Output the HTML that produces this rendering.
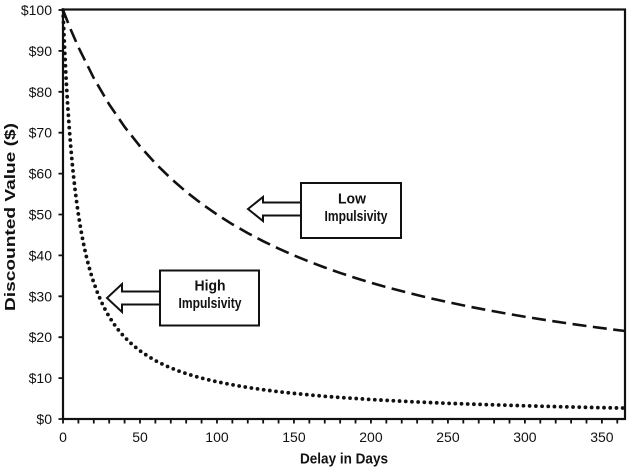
<!DOCTYPE html>
<html>
<head>
<meta charset="utf-8">
<style>
  html, body { margin: 0; padding: 0; background: #ffffff; }
  body { width: 630px; height: 470px; overflow: hidden; }
  svg { display: block; }
  text { font-family: "Liberation Sans", sans-serif; fill: #111; }
</style>
</head>
<body>
<svg width="630" height="470" viewBox="0 0 630 470" xmlns="http://www.w3.org/2000/svg">
  <rect x="0" y="0" width="630" height="470" fill="#ffffff"/>

  <!-- Frame -->
  <rect x="63" y="9.5" width="562" height="409.5" fill="none" stroke="#111" stroke-width="2.2"/>

  <!-- Y ticks -->
  <path d="M58.5,419H63 M58.5,378.1H63 M58.5,337.2H63 M58.5,296.3H63 M58.5,255.4H63 M58.5,214.5H63 M58.5,173.6H63 M58.5,132.7H63 M58.5,91.8H63 M58.5,50.9H63 M58.5,10H63" stroke="#111" stroke-width="1.8" fill="none"/>

  <!-- X ticks -->
  <path d="M63,419v4.5 M78.40,419v4.5 M93.79,419v4.5 M109.19,419v4.5 M124.59,419v4.5 M139.99,419v4.5 M155.38,419v4.5 M170.78,419v4.5 M186.18,419v4.5 M201.57,419v4.5 M216.97,419v4.5 M232.37,419v4.5 M247.76,419v4.5 M263.16,419v4.5 M278.56,419v4.5 M293.96,419v4.5 M309.35,419v4.5 M324.75,419v4.5 M340.15,419v4.5 M355.54,419v4.5 M370.94,419v4.5 M386.34,419v4.5 M401.73,419v4.5 M417.13,419v4.5 M432.53,419v4.5 M447.93,419v4.5 M463.32,419v4.5 M478.72,419v4.5 M494.12,419v4.5 M509.51,419v4.5 M524.91,419v4.5 M540.31,419v4.5 M555.70,419v4.5 M571.10,419v4.5 M586.50,419v4.5 M601.90,419v4.5 M617.29,419v4.5" stroke="#111" stroke-width="1.8" fill="none"/>

  <!-- Y tick labels -->
  <g font-size="14" text-anchor="end">
    <text x="52" y="424">$0</text>
    <text x="52" y="383.1">$10</text>
    <text x="52" y="342.2">$20</text>
    <text x="52" y="301.3">$30</text>
    <text x="52" y="260.4">$40</text>
    <text x="52" y="219.5">$50</text>
    <text x="52" y="178.6">$60</text>
    <text x="52" y="137.7">$70</text>
    <text x="52" y="96.8">$80</text>
    <text x="52" y="55.9">$90</text>
    <text x="52" y="15">$100</text>
  </g>

  <!-- X tick labels -->
  <g font-size="14" text-anchor="middle">
    <text x="63" y="442">0</text>
    <text x="139.99" y="442">50</text>
    <text x="216.97" y="442">100</text>
    <text x="293.96" y="442">150</text>
    <text x="370.94" y="442">200</text>
    <text x="447.93" y="442">250</text>
    <text x="524.91" y="442">300</text>
    <text x="601.90" y="442">350</text>
  </g>

  <!-- Axis titles -->
  <text x="344" y="463.5" font-size="15" font-weight="bold" text-anchor="middle" textLength="88" lengthAdjust="spacingAndGlyphs">Delay in Days</text>
  <text transform="translate(15,217) rotate(-90)" x="0" y="0" font-size="15" font-weight="bold" text-anchor="middle" textLength="188" lengthAdjust="spacingAndGlyphs">Discounted Value ($)</text>

  <!-- Low impulsivity (dashed) -->
  <polyline fill="none" stroke="#111" stroke-width="2.6" stroke-dasharray="14 6.5"
    points="63,10 70.70,29.47 78.40,47.18 93.79,78.17 109.19,104.40 124.59,126.85 139.99,146.33 155.38,163.38 170.78,178.42 186.18,191.76 201.57,203.74 216.97,214.5 232.37,224.3 247.76,233.10 263.16,241.2 278.56,248.58 293.96,255.4 309.35,261.70 324.75,267.5 340.15,272.94 355.54,278.0 370.94,282.67 386.34,287.1 409.43,293.15 428.68,297.9 447.93,302.14 467.17,306.2 486.42,309.93 505.66,313.4 524.91,316.75 548.0,320.4 571.10,323.87 598.0,327.6 625,331.02"/>

  <!-- High impulsivity (dotted) -->
  <polyline fill="none" stroke="#111" stroke-width="3.8" stroke-linecap="round" stroke-dasharray="0 6.2"
    points="63,10 63.38,19.98 63.77,29.47 64.54,47.18 65.31,63.0 66.08,78.17 67.62,104.40 69.16,126.85 70.70,146.33 72.24,163.38 73.78,178.42 75.32,191.76 76.86,203.74 78.40,214.5 79.94,224.2 81.48,233.10 83.02,241.2 84.56,248.58 86.10,255.4 87.64,261.70 89.18,267.5 90.71,272.94 92.25,278.0 93.79,282.67 97.64,293.15 101.49,302.14 105.34,309.93 109.19,316.75 113.81,323.87 119.20,331.02 124.59,337.2 132.29,344.6 139.99,350.8 147.69,356.0 155.38,360.6 163.08,364.5 170.78,367.9 178.48,370.9 186.18,373.6 193.87,376.0 201.57,378.1 209.27,380.0 216.97,381.8 232.37,384.8 247.76,387.5 263.16,389.7 278.56,391.7 293.96,393.4 309.35,394.9 324.75,396.3 340.15,397.5 355.54,398.5 370.94,399.5 390.19,400.6 409.43,401.6 428.68,402.5 447.93,403.3 467.17,404.0 486.42,404.6 505.66,405.2 524.91,405.8 548.0,406.4 571.10,407.0 598.0,407.6 625,408.1"/>

  <!-- Low impulsivity callout -->
  <path d="M301,202.5 L263,202.5 L263,197 L248,209 L263,221 L263,215.5 L301,215.5" fill="#ffffff" stroke="#111" stroke-width="2" stroke-linejoin="miter"/>
  <rect x="301" y="183" width="100" height="55" fill="#ffffff" stroke="#111" stroke-width="2"/>
  <g font-size="15" font-weight="bold" text-anchor="middle">
    <text x="352" y="203.5" textLength="28" lengthAdjust="spacingAndGlyphs">Low</text>
    <text x="356" y="221" textLength="63" lengthAdjust="spacingAndGlyphs">Impulsivity</text>
  </g>

  <!-- High impulsivity callout -->
  <path d="M160,291.5 L122,291.5 L122,284 L107,298 L122,312 L122,304.5 L160,304.5" fill="#ffffff" stroke="#111" stroke-width="2" stroke-linejoin="miter"/>
  <rect x="160" y="270.5" width="99" height="55" fill="#ffffff" stroke="#111" stroke-width="2"/>
  <g font-size="15" font-weight="bold" text-anchor="middle">
    <text x="210" y="290.5" textLength="31" lengthAdjust="spacingAndGlyphs">High</text>
    <text x="210" y="308" textLength="63" lengthAdjust="spacingAndGlyphs">Impulsivity</text>
  </g>
</svg>
</body>
</html>
